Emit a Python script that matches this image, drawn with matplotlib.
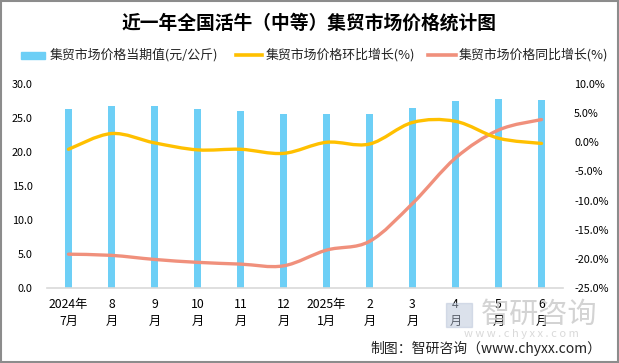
import matplotlib
matplotlib.use("Agg")
import matplotlib.pyplot as plt
from matplotlib.path import Path
from matplotlib.patches import PathPatch, Rectangle
from matplotlib.lines import Line2D
import numpy as np

plt.rcParams['font.family'] = ['Noto Sans CJK SC', 'DejaVu Sans']

categories = ["2024年\n7月", "8\n月", "9\n月", "10\n月", "11\n月", "12\n月",
              "2025年\n1月", "2\n月", "3\n月", "4\n月", "5\n月", "6\n月"]
price = [26.3, 26.8, 26.8, 26.3, 26.0, 25.6, 25.6, 25.6, 26.5, 27.5, 27.8, 27.6]
mom = [-1.2, 1.5, -0.1, -1.3, -1.2, -1.9, 0.0, -0.3, 3.4, 3.6, 0.7, -0.2]
yoy = [-19.2, -19.4, -20.1, -20.6, -20.9, -21.2, -18.5, -17.0, -10.5, -2.7, 2.1, 3.9]

title = "近一年全国活牛（中等）集贸市场价格统计图"
legend_labels = ["集贸市场价格当期值(元/公斤)", "集贸市场价格环比增长(%)", "集贸市场价格同比增长(%)"]
source = "制图：智研咨询（www.chyxx.com）"

W, H = 619, 363
BAR_C = "#6DCFF6"
MOM_C = "#FFC000"
YOY_C = "#F0907C"

fig = plt.figure(figsize=(W / 100, H / 100), dpi=100)
fx = lambda px: px / W
fy = lambda py: 1 - py / H

ax = fig.add_axes([fx(47), fy(288), fx(563) - fx(47), fy(84) - fy(288)])
ax2 = ax.twinx()

x = np.arange(len(categories))
ax.bar(x, price, width=0.17, color=BAR_C, zorder=2)
ax.set_xlim(-0.5, len(categories) - 0.5)
ax.set_ylim(0, 30)
ax.set_yticks(np.arange(0, 30.1, 5))
ax.set_yticklabels([f"{v:.1f}" for v in np.arange(0, 30.1, 5)])
ax.set_xticks(x)
ax.set_xticklabels(categories, linespacing=1.45)

ax2.set_ylim(-25, 10)
ax2.set_yticks(np.arange(-25, 10.1, 5))
ax2.set_yticklabels([f"{v:.1f}%" for v in np.arange(-25, 10.1, 5)])


def smooth_path(xs, ys):
    xs = list(xs); ys = list(ys)
    n = len(xs)
    verts = [(xs[0], ys[0])]
    codes = [Path.MOVETO]
    for i in range(n - 1):
        p0 = (xs[max(i - 1, 0)], ys[max(i - 1, 0)])
        p1 = (xs[i], ys[i])
        p2 = (xs[i + 1], ys[i + 1])
        p3 = (xs[min(i + 2, n - 1)], ys[min(i + 2, n - 1)])
        c1 = (p1[0] + (p2[0] - p0[0]) / 6, p1[1] + (p2[1] - p0[1]) / 6)
        c2 = (p2[0] - (p3[0] - p1[0]) / 6, p2[1] - (p3[1] - p1[1]) / 6)
        verts += [c1, c2, p2]
        codes += [Path.CURVE4] * 3
    return Path(verts, codes)


for ser, col in [(yoy, YOY_C), (mom, MOM_C)]:
    ax2.add_patch(PathPatch(smooth_path(x, ser), facecolor="none", edgecolor=col,
                            lw=2.4, capstyle="round", joinstyle="round", zorder=3))

for a in (ax, ax2):
    for s in a.spines.values():
        s.set_visible(False)
ax.spines['bottom'].set_visible(True)
ax.spines['bottom'].set_color("#D9D9D9")
ax.spines['bottom'].set_linewidth(1.2)
ax.tick_params(axis='y', length=0, pad=10.5, labelsize=7.8, colors="#000000")
ax.tick_params(axis='x', length=0, pad=7, labelsize=8.8)
ax2.tick_params(axis='y', length=0, pad=8, labelsize=7.8)

# title
fig.text(fx(309.5), fy(23), title, ha="center", va="center", fontsize=13.5, fontweight="bold")

# legend (manual)
fig.patches.append(Rectangle((fx(21), fy(59)), fx(45) - fx(21), fy(52) - fy(59),
                             transform=fig.transFigure, color=BAR_C, figure=fig))
fig.lines.append(Line2D([fx(236), fx(262)], [fy(55), fy(55)], transform=fig.transFigure,
                        color=MOM_C, lw=2.6, figure=fig))
fig.lines.append(Line2D([fx(428), fx(456)], [fy(55), fy(55)], transform=fig.transFigure,
                        color=YOY_C, lw=2.6, figure=fig))
for xp, lab in zip([50, 266, 459], legend_labels):
    fig.text(fx(xp), fy(55), lab, ha="left", va="center", fontsize=9.3, color="#222222")

# watermark
fig.text(fx(539), fy(315), "智研咨询", ha="center", va="center", fontsize=21,
         color="#C8C8C8", alpha=0.8, zorder=0)
fig.text(fx(521), fy(334), "w w w . c h y x x . c o m", ha="center", va="center",
         fontsize=8, color="#D0D0D0", alpha=0.8, zorder=0)
fig.patches.append(Rectangle((fx(446), fy(327)), fx(472) - fx(446), fy(303) - fy(327),
                             transform=fig.transFigure, color="#B8C4D8", alpha=0.5,
                             figure=fig, zorder=0))

# source
fig.text(fx(601), fy(348), source, ha="right", va="center", fontsize=10, color="#222222")

# border
fig.patches.append(Rectangle((0.001, 0.002), 0.997, 0.995, transform=fig.transFigure,
                             fill=False, edgecolor="#8C8C8C", lw=1.5, figure=fig))

fig.savefig("out.png", dpi=100)
